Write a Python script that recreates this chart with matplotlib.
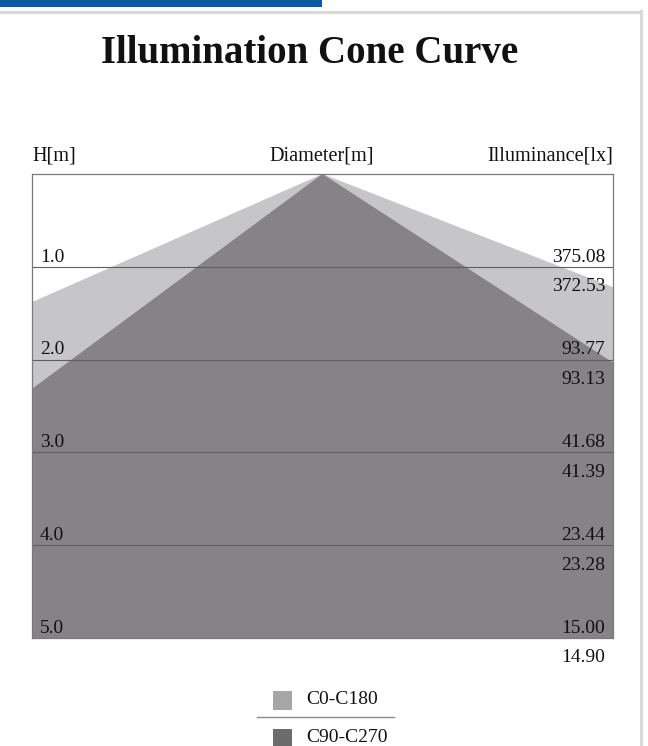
import matplotlib
matplotlib.use("Agg")
import matplotlib.pyplot as plt
from matplotlib.patches import Polygon, Rectangle
from matplotlib.lines import Line2D

# ---------------- data ----------------
heights = [1.0, 2.0, 3.0, 4.0, 5.0]
height_labels = ["1.0", "2.0", "3.0", "4.0", "5.0"]
illum_c0_c180 = ["375.08", "93.77", "41.68", "23.44", "15.00"]
illum_c90_c270 = ["372.53", "93.13", "41.39", "23.28", "14.90"]
series_names = ["C0-C180", "C90-C270"]
# half widths of the cone (m) at 1 m height, left / right of axis
half_left_1m = [1.81, 1.08]
half_right_1m = [2.05, 1.23]

# ---------------- styles ----------------
W, H = 648, 746
fill_colors = ["#c6c6c8", "#858385"]
legend_colors = ["#a6a6a6", "#6c6c6c"]
SERIF = ["Liberation Serif", "DejaVu Serif"]
FS = 14
FS_HEAD = 14.6

def fx(x):
    return x / W

def fy(y):
    return 1 - y / H

fig = plt.figure(figsize=(W / 100, H / 100), dpi=100)
fig.patch.set_facecolor("white")

# outer decoration: blue bar and light gray frame
fig.add_artist(Rectangle((0, fy(6.5)), fx(322), 6.5 / H, transform=fig.transFigure,
                         facecolor="#0b5aa6", edgecolor="none"))
fig.add_artist(Line2D([0, fx(641)], [fy(12), fy(12)], transform=fig.transFigure,
                      color="#d9d9d9", lw=2.2))
fig.add_artist(Line2D([fx(640.5), fx(640.5)], [fy(11), 0], transform=fig.transFigure,
                      color="#d9d9d9", lw=2.2))

# main axes (box)
left, right, top, bottom = 32, 613, 174, 638
ax = fig.add_axes([fx(left), fy(bottom), fx(right - left), (bottom - top) / H])
ax.set_xlim(-2.5, 2.5)
ax.set_ylim(heights[-1], 0)
ax.set_xticks([])
ax.set_yticks([])
for s in ax.spines.values():
    s.set_color("#7a7a7a")
    s.set_linewidth(0.9)
    s.set_zorder(5)

hmax = heights[-1]
for i in range(len(series_names)):
    poly = Polygon([(0, 0), (-half_left_1m[i] * hmax, hmax), (half_right_1m[i] * hmax, hmax)],
                   closed=True, facecolor=fill_colors[i], edgecolor="none", zorder=1 + i)
    ax.add_patch(poly)

for h in heights[:-1]:
    ax.axhline(h, color="#5e5e5e", lw=0.8, zorder=4)

for h, lab, a, b in zip(heights, height_labels, illum_c0_c180, illum_c90_c270):
    ax.annotate(lab, xy=(0, h), xycoords=("axes fraction", "data"),
                xytext=(5.8, 3.8), textcoords="offset points",
                ha="left", va="baseline", fontsize=FS, family=SERIF, color="#111111",
                zorder=6, annotation_clip=False)
    ax.annotate(a, xy=(1, h), xycoords=("axes fraction", "data"),
                xytext=(-5.5, 3.8), textcoords="offset points",
                ha="right", va="baseline", fontsize=FS, family=SERIF, color="#111111",
                zorder=6, annotation_clip=False)
    ax.annotate(b, xy=(1, h), xycoords=("axes fraction", "data"),
                xytext=(-5.5, -17.5), textcoords="offset points",
                ha="right", va="baseline", fontsize=FS, family=SERIF, color="#111111",
                zorder=6, annotation_clip=False)

# title and headers
fig.text(fx(310), fy(63), "Illumination Cone Curve", ha="center", va="baseline",
         fontsize=28, fontweight="bold", family=SERIF, color="#111111")
fig.text(fx(32), fy(160), "H[m]", ha="left", va="baseline", fontsize=FS_HEAD, family=SERIF, color="#111111")
fig.text(fx(322), fy(160), "Diameter[m]", ha="center", va="baseline", fontsize=FS_HEAD, family=SERIF, color="#111111")
fig.text(fx(613), fy(160), "Illuminance[lx]", ha="right", va="baseline", fontsize=FS_HEAD, family=SERIF, color="#111111")

# legend (manual)
sq = 19
legend_y = [700, 738]
for i, name in enumerate(series_names):
    cy = legend_y[i]
    fig.add_artist(Rectangle((fx(273), fy(cy + sq / 2)), sq / W, sq / H, transform=fig.transFigure,
                             facecolor=legend_colors[i], edgecolor="none"))
    fig.text(fx(306), fy(cy), name, ha="left", va="center", fontsize=FS, family=SERIF, color="#111111")
fig.add_artist(Line2D([fx(257), fx(394)], [fy(717), fy(717)], transform=fig.transFigure,
                      color="#8a8a8a", lw=1.0))

fig.savefig("out.png", dpi=100, facecolor="white")
